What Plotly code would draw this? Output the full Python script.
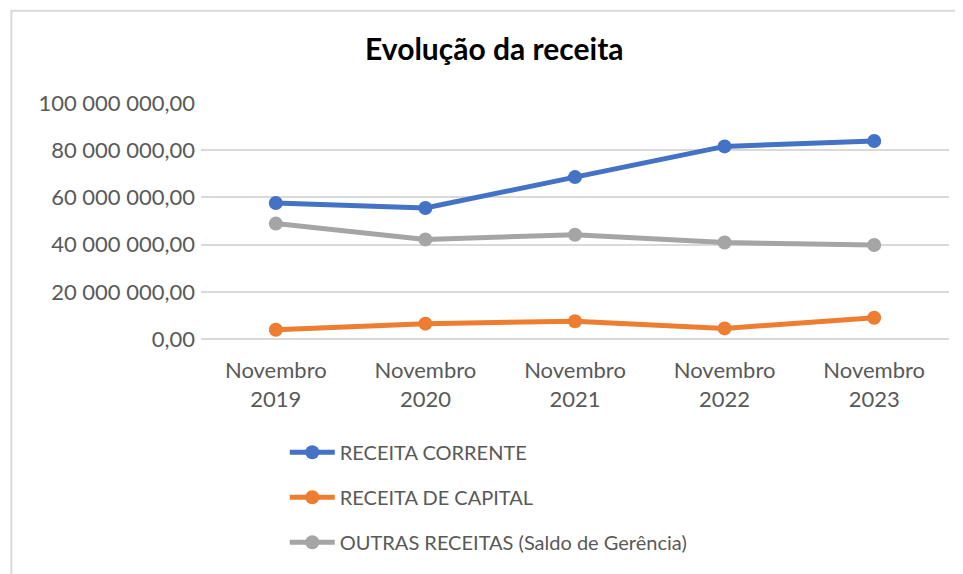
import plotly.graph_objects as go

categories = ["Novembro<br>2019", "Novembro<br>2020", "Novembro<br>2021", "Novembro<br>2022", "Novembro<br>2023"]
receita_corrente = [57.6e6, 55.5e6, 68.6e6, 81.6e6, 83.9e6]
receita_capital = [3.9e6, 6.5e6, 7.5e6, 4.5e6, 9.0e6]
outras_receitas = [48.9e6, 42.2e6, 44.2e6, 40.9e6, 39.8e6]
series_names = ["RECEITA CORRENTE", "RECEITA DE CAPITAL", "OUTRAS RECEITAS (Saldo de Gerência)"]
series_colors = ["#4472C4", "#ED7D31", "#A5A5A5"]
y_ticks = [0, 20e6, 40e6, 60e6, 80e6, 100e6]

FONT = "Lato"
fig = go.Figure()
for name, vals, col in zip(series_names, [receita_corrente, receita_capital, outras_receitas], series_colors):
    fig.add_trace(go.Scatter(
        x=categories, y=vals, name=name, mode="lines+markers",
        line=dict(color=col, width=5), marker=dict(color=col, size=14),
        legendgroup=name, hoverinfo="skip"))

fig.update_layout(
    width=963, height=574,
    margin=dict(l=192.7, r=22, t=95.3, b=242.7),
    paper_bgcolor="white", plot_bgcolor="white",
    separators=", ",
    title=dict(text="<b>Evolução da receita</b>", x=0.505, xanchor="center",
               yref="container", y=0.927, yanchor="middle",
               font=dict(family=FONT, size=30, color="black")),
    font=dict(family=FONT, color="#595959", size=22),
    showlegend=True,
    legend=dict(orientation="v", x=0.112, xanchor="left", y=-0.397, yanchor="top",
                font=dict(family=FONT, size=20, color="#595959"), itemwidth=45,
                traceorder="grouped", tracegroupgap=16, bgcolor="rgba(0,0,0,0)"),
    shapes=[dict(type="rect", xref="paper", yref="paper", x0=-0.2535, x1=1.1, y0=-1.5, y1=1.391,
                 line=dict(color="#D9D9D9", width=2), fillcolor="rgba(0,0,0,0)", layer="below")],
)
fig.update_xaxes(showgrid=False, showline=False, ticks="", tickfont=dict(size=22, color="#595959"),
                 range=[-0.5, 4.5], ticklabelstandoff=16)
fig.update_yaxes(range=[0, 100e6], tickvals=y_ticks, tickformat=",.2f", showgrid=True,
                 gridcolor="#D9D9D9", gridwidth=2, zeroline=True, zerolinecolor="#D9D9D9",
                 zerolinewidth=2, showline=False, ticks="", ticklen=0, ticklabelstandoff=5,
                 tickfont=dict(size=22, color="#595959"))
fig.write_html("out.html")
